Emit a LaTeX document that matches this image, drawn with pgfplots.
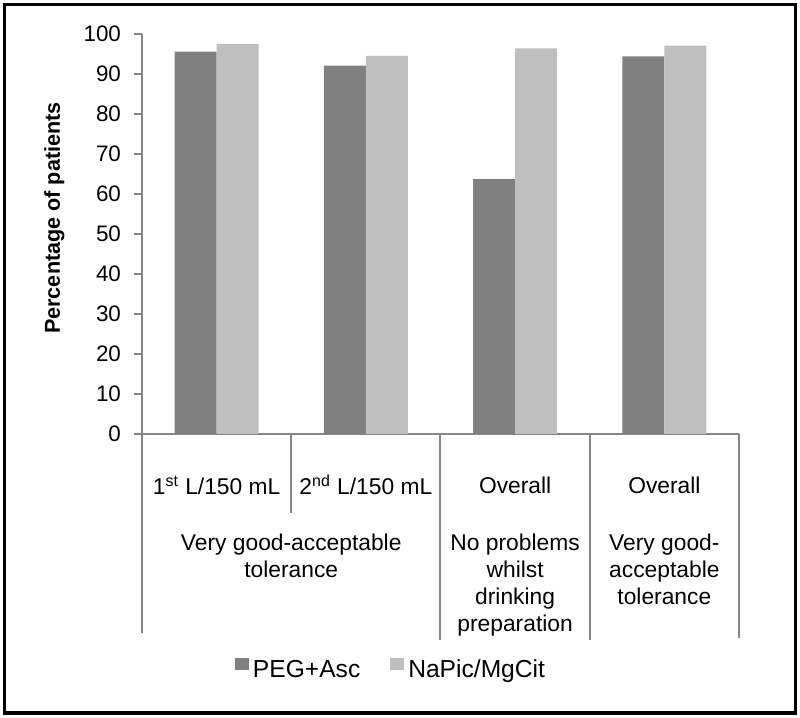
\documentclass[border=0pt]{standalone}
\usepackage{fontspec}
\setmainfont{Liberation Sans}
\usepackage{pgfplots}
\pgfplotsset{compat=1.18}
\definecolor{darkbar}{RGB}{128,128,128}
\definecolor{lightbar}{RGB}{191,191,191}
\definecolor{axisgray}{RGB}{134,134,134}
\begin{document}
\begin{tikzpicture}
\useasboundingbox (0,0) rectangle (400pt,359pt);
\begin{axis}[
  at={(71pt,142pt)}, anchor=south west,
  scale only axis, width=298.5pt, height=200pt,
  xmin=-0.5, xmax=3.5, ymin=0, ymax=100,
  axis lines*=left,
  axis line style={axisgray, line width=1pt, -},
  ybar=0pt, bar width=21pt,
  xtick=\empty, ytick={0,10,...,100},
  tick align=outside, major tick length=4pt,
  tick style={axisgray, line width=0.8pt},
  /pgf/number format/assume math mode=true,
  yticklabel style={font=\fontsize{11.2}{12}\selectfont, text=black, xshift=-3pt},
  ylabel={Percentage of patients},
  ylabel style={font=\bfseries\fontsize{10.8}{12}\selectfont, at={(axis description cs:-0.147,0.54)}, anchor=center},
  clip=false,
  legend columns=2,
  legend style={at={(axis cs:1.175,-59)}, anchor=center, draw=none, fill=none,
    font=\fontsize{12.3}{14}\selectfont,
    /tikz/every even column/.append style={column sep=13pt}},
  legend image code/.code={\fill[#1] (0pt,0pt) rectangle (7pt,5.8pt);},
]
\addplot[fill=darkbar, draw=none] coordinates {(0,95.6) (1,92.1) (2,63.7) (3,94.4)};
\addplot[fill=lightbar, draw=none] coordinates {(0,97.5) (1,94.5) (2,96.4) (3,97.1)};
\legend{PEG+Asc, NaPic/MgCit}
% category table
\draw[axisgray, line width=1pt] (axis cs:-0.5,0) -- (axis cs:-0.5,-49.75);
\draw[axisgray, line width=1pt] (axis cs:0.5,0) -- (axis cs:0.5,-19.75);
\draw[axisgray, line width=1pt] (axis cs:1.5,0) -- (axis cs:1.5,-51.5);
\draw[axisgray, line width=1pt] (axis cs:2.5,0) -- (axis cs:2.5,-51.5);
\draw[axisgray, line width=1pt] (axis cs:3.5,0) -- (axis cs:3.5,-51);
\begin{scope}[every node/.style={font=\fontsize{11.4}{13.4}\selectfont, align=center, inner sep=0pt}]
\node[anchor=center] at (axis cs:0,-12.75) {1\textsuperscript{st} L/150 mL};
\node[anchor=center] at (axis cs:1,-12.75) {2\textsuperscript{nd} L/150 mL};
\node[anchor=center] at (axis cs:2,-12.75) {Overall};
\node[anchor=center] at (axis cs:3,-12.75) {Overall};
\node[anchor=north] at (axis cs:0.5,-25) {Very good-acceptable\\tolerance};
\node[anchor=north] at (axis cs:2,-25) {No problems\\whilst\\drinking\\preparation};
\node[anchor=north] at (axis cs:3,-25) {Very good-\\acceptable\\tolerance};
\end{scope}
\end{axis}
\draw[line width=1.6pt] (2.3pt,2.5pt) rectangle (397.7pt,356.8pt);
\end{tikzpicture}
\end{document}
